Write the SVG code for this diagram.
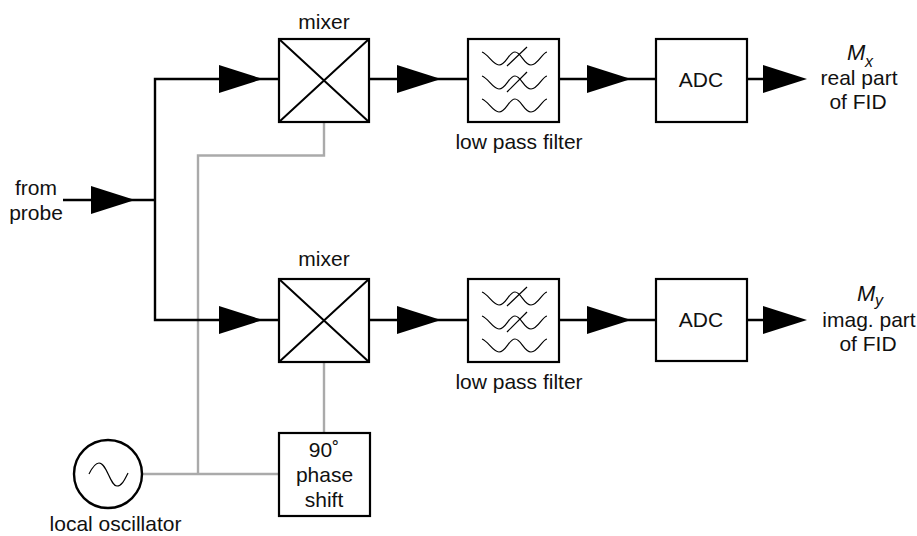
<svg xmlns="http://www.w3.org/2000/svg" width="917" height="536" viewBox="0 0 917 536">
<defs>
<style>
.box{fill:#fff;stroke:#000;stroke-width:2.2}
.thin{fill:none;stroke:#000;stroke-width:1.2}
.x{fill:none;stroke:#000;stroke-width:2}
.b{fill:none;stroke:#000;stroke-width:2.4}
.g{fill:none;stroke:#aaa;stroke-width:2.4}
.t{font-family:"Liberation Sans",Arial,sans-serif;font-size:21px;fill:#111;text-anchor:middle}
.i{font-style:italic;font-size:22px;text-anchor:start}
.s{font-style:italic;font-size:16px;text-anchor:start}
</style>
<polygon id="ah" points="0,-14 44,0 0,14" fill="#000"/>
<g id="filt">
<rect class="box" x="0" y="0" width="91" height="83"/>
<path class="thin" d="M14 13C20 15 25 26 31 26C38 26 41 13 47 13C53 13 56 26 63 26C70 26 74 14 79 13"/>
<path class="thin" d="M39 27L59 8"/>
<path class="thin" d="M14 37C20 39 25 50 31 50C38 50 41 37 47 37C53 37 56 50 63 50C70 50 74 38 79 37"/>
<path class="thin" d="M39 53L59 33"/>
<path class="thin" d="M14 60C20 62 25 73 31 73C38 73 41 60 47 60C53 60 56 73 63 73C70 73 74 61 79 60"/>
</g>
<g id="mix">
<rect class="box" x="0" y="0" width="90" height="83"/>
<path class="x" d="M0 0L90 83M90 0L0 83"/>
</g>
</defs>

<g id="connectors">
<path class="g" d="M324 122V155.500H198V474"/>
<path class="g" d="M143 474H279"/>
<path class="g" d="M324 362V433"/>
<path class="b" d="M63 200H155"/>
<path class="b" d="M279 79H155V320H279"/>
<path class="b" d="M369 79H468M559 79H656M747 79H790"/>
<path class="b" d="M369 320H468M559 320H656M747 320H790"/>
<use href="#ah" x="91" y="200"/>
<use href="#ah" x="219" y="79"/>
<use href="#ah" x="219" y="320"/>
<use href="#ah" x="397" y="79"/>
<use href="#ah" x="397" y="320"/>
<use href="#ah" x="587" y="79"/>
<use href="#ah" x="587" y="320"/>
<use href="#ah" x="763" y="79"/>
<use href="#ah" x="763" y="320"/>
</g>

<g id="mixer1"><use href="#mix" x="279" y="39"/><text class="t" x="324" y="29">mixer</text></g>
<g id="mixer2"><use href="#mix" x="279" y="279"/><text class="t" x="324" y="266">mixer</text></g>
<g id="filter1"><use href="#filt" x="468" y="39"/><text class="t" x="519" y="149">low pass filter</text></g>
<g id="filter2"><use href="#filt" x="468" y="279"/><text class="t" x="519" y="389">low pass filter</text></g>
<g id="adc1"><rect class="box" x="656" y="39" width="91" height="83"/><text class="t" x="701" y="87">ADC</text></g>
<g id="adc2"><rect class="box" x="656" y="279" width="91" height="82"/><text class="t" x="701" y="327">ADC</text></g>
<g id="phase"><rect class="box" x="279" y="433" width="91" height="83"/>
<text class="t" x="324" y="457">90˚</text><text class="t" x="324.500" y="482">phase</text><text class="t" x="324" y="507">shift</text></g>
<g id="osc"><circle cx="108" cy="474" r="34" fill="#fff" stroke="#000" stroke-width="2.4"/>
<path class="thin" d="M89 474C92 468 95 463 99 463C107 463 110 486 117 486C122 486 125 479 128 473"/>
<text class="t" x="115.500" y="531">local oscillator</text></g>
<g id="probe"><text class="t" x="36" y="195">from</text><text class="t" x="36" y="220">probe</text></g>
<g id="outx"><text class="t i" x="847" y="60">M</text><text class="t s" x="865" y="67">x</text><text class="t" x="859" y="85">real part</text><text class="t" x="858" y="109">of FID</text></g>
<g id="outy"><text class="t i" x="857" y="301">M</text><text class="t s" x="875" y="306">y</text><text class="t" x="869" y="327">imag. part</text><text class="t" x="868" y="351">of FID</text></g>
</svg>
